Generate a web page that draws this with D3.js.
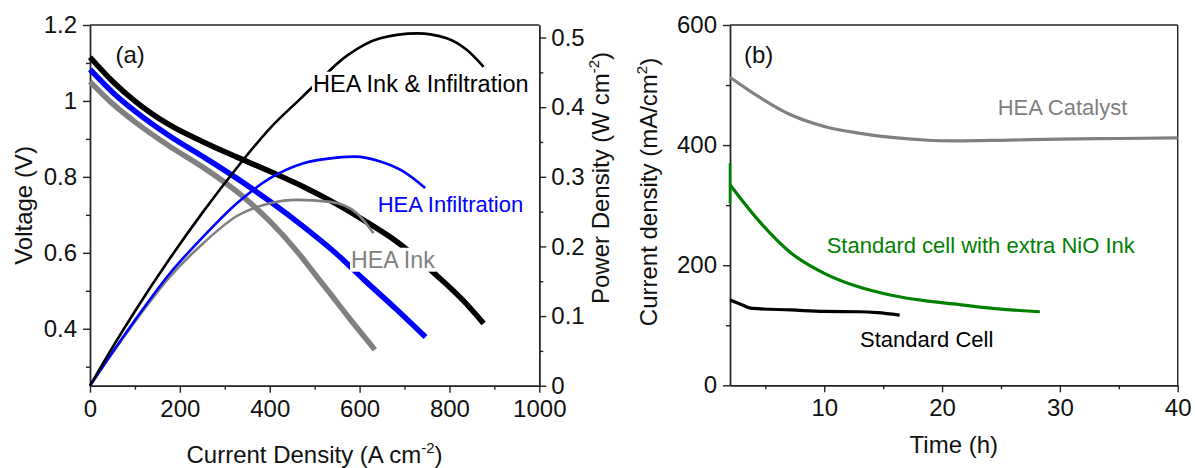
<!DOCTYPE html>
<html>
<head>
<meta charset="utf-8">
<script src="https://cdn.jsdelivr.net/npm/d3@7/dist/d3.min.js"></script>
<style>
  body { margin: 0; background: #fff; }
  svg text { font-family: "Liberation Sans", Arial, sans-serif; }
</style>
</head>
<body>
<svg id="chart" width="1195" height="468"></svg>
<script>
// ---- panel (a): polarisation curves, [current density, voltage] ----
var v_ink_infil = [[0,1.115],[50,1.052],[100,0.9995],[178,0.936],[252,0.892],[327,0.852],[401,0.814],[475,0.774],
                   [549,0.728],[609,0.686],[683,0.629],[772,0.54],[831,0.474],[876,0.414]]
var v_infil = [[0,1.083],[50,1.023],[100,0.973],[178,0.907],[252,0.853],[327,0.796],[401,0.735],[475,0.669],
               [549,0.597],[609,0.53],[683,0.45],[747,0.378]]
var v_ink = [[0,1.051],[50,0.993],[100,0.945],[178,0.88],[252,0.825],[327,0.761],[401,0.682],[460,0.605],
             [505,0.537],[535,0.492],[579,0.425],[634,0.345]]

// power density curves, [current density, power]
var p_ink_infil = [[0,0],[50,0.055],[100,0.107],[178,0.183],[252,0.25],[327,0.313],[401,0.37],[468,0.412],
                   [497,0.43],[572,0.474],[646,0.499],[728,0.506],[794,0.499],[839,0.482],[876,0.458]]
var p_infil = [[0,0],[50,0.048],[100,0.094],[178,0.1615],[252,0.214],[327,0.262],[401,0.298],[475,0.3195],
               [549,0.3275],[590,0.329],[646,0.322],[698,0.3075],[746,0.284]]
var p_ink = [[0,0],[50,0.047],[100,0.092],[178,0.1566],[252,0.2046],[327,0.2437],[401,0.262],[460,0.2668],
             [535,0.264],[594,0.2477],[631,0.219]]

var a_x_ticks = [0,200,400,600,800,1000], a_x_minor = [100,300,500,700,900]
var a_v_ticks = [0.4,0.6,0.8,1,1.2], a_v_minor = [0.3,0.5,0.7,0.9,1.1]
var a_p_ticks = [0,0.1,0.2,0.3,0.4,0.5], a_p_minor = [0.05,0.15,0.25,0.35,0.45]

// ---- panel (b): stability, [time h, current density mA/cm2] ----
var b_hea = [[2,513],[4.4,481],[7.2,450],[10,431],[12.9,420],[15.7,413],[18.5,408.5],[21,407],[25,408],
             [30,410],[35,411],[40,412]]
var b_nio_spike = [[2,303],[2,370]]
var b_nio = [[2,334],[4.4,275],[7.2,220],[10,186.5],[12.9,164],[15.7,150],[18.5,141],
             [21,135.5],[24.3,128],[28.3,122.5]]
var b_std = [[2,142],[2.8,136],[3.9,128],[7.2,125.5],[10,123],[13,122.5],[14.5,121],[16.4,117]]

var b_x_ticks = [10,20,30,40], b_x_minor = [5,15,25,35]
var b_y_ticks = [0,200,400,600], b_y_minor = [100,300,500]

var svg = d3.select("#chart")
var FONT_TICK = 24, FONT_TITLE = 24

// scales
var xA = d3.scaleLinear().domain([0,1000]).range([90,539.3]),
    yV = d3.scaleLinear().domain([0.25,1.2]).range([385.7,25]),
    yP = d3.scaleLinear().domain([0,0.518]).range([385.7,25])
var xB = d3.scaleLinear().domain([2,40]).range([730,1177.7]),
    yB = d3.scaleLinear().domain([0,600]).range([385.3,25])

function draw_axis(axis_fn, scale, major, minor, fmt, transform, pad) {
	var g = svg.append("g").attr("transform", transform)
	g.call(axis_fn(scale).tickValues(minor).tickSize(4).tickSizeOuter(0).tickFormat(""))
	g.append("g").call(axis_fn(scale).tickValues(major).tickSize(7).tickSizeOuter(0).tickPadding(pad).tickFormat(fmt))
	g.selectAll("path.domain").style("stroke", "#222").style("stroke-width", 1.4)
	g.selectAll(".tick line").style("stroke", "#222").style("stroke-width", 1.4)
	g.selectAll("text")
	  .style("font-family", "'Liberation Sans', Arial, sans-serif")
	  .style("font-size", FONT_TICK + "px")
	  .style("fill", "#111")
	return g
}

var plain = d => String(d)

// panel (a) frame + axes
svg.append("line").attr("x1", xA(0)).attr("x2", xA(1000)).attr("y1", 25).attr("y2", 25)
   .style("stroke", "#222").style("stroke-width", 1.4)
draw_axis(d3.axisBottom, xA, a_x_ticks, a_x_minor, plain, "translate(0," + yV(0.25) + ")", 7)
draw_axis(d3.axisLeft, yV, a_v_ticks, a_v_minor, plain, "translate(" + xA(0) + ",0)", 6)
draw_axis(d3.axisRight, yP, a_p_ticks, a_p_minor, plain, "translate(" + xA(1000) + ",0)", 5)

// panel (b) frame + axes
svg.append("line").attr("x1", xB(2)).attr("x2", xB(40)).attr("y1", yB(600)).attr("y2", yB(600))
   .style("stroke", "#222").style("stroke-width", 1.4)
svg.append("line").attr("x1", xB(40)).attr("x2", xB(40)).attr("y1", yB(600)).attr("y2", yB(0))
   .style("stroke", "#222").style("stroke-width", 1.4)
draw_axis(d3.axisBottom, xB, b_x_ticks, b_x_minor, plain, "translate(0," + yB(0) + ")", 7)
draw_axis(d3.axisLeft, yB, b_y_ticks, b_y_minor, plain, "translate(" + xB(2) + ",0)", 6)

// curves
var lineV = d3.line().x(d => xA(d[0])).y(d => yV(d[1])).curve(d3.curveMonotoneX),
    lineP = d3.line().x(d => xA(d[0])).y(d => yP(d[1])).curve(d3.curveMonotoneX),
    lineB = d3.line().x(d => xB(d[0])).y(d => yB(d[1])).curve(d3.curveMonotoneX),
    lineB_straight = d3.line().x(d => xB(d[0])).y(d => yB(d[1]))

var a_series = [
	{v: v_ink, p: p_ink, color: "#808080"},
	{v: v_infil, p: p_infil, color: "#0000ff"},
	{v: v_ink_infil, p: p_ink_infil, color: "#000000"}
]
a_series.forEach(function(s) {
	svg.append("path").attr("d", lineV(s.v))
	   .style("fill", "none").style("stroke", s.color).style("stroke-width", 5.5)
})
a_series.forEach(function(s) {
	svg.append("path").attr("d", lineP(s.p))
	   .style("fill", "none").style("stroke", s.color).style("stroke-width", 2.6)
})

var b_series = [
	{d: b_hea, color: "#808080"},
	{d: b_nio, color: "#008000"},
	{d: b_std, color: "#000000"}
]
b_series.forEach(function(s) {
	svg.append("path").attr("d", lineB(s.d))
	   .style("fill", "none").style("stroke", s.color).style("stroke-width", 3.2)
	   .style("stroke-linejoin", "round")
})
// the little start-up spike of the NiO cell
svg.append("path").attr("d", lineB_straight(b_nio_spike))
   .style("fill", "none").style("stroke", "#008000").style("stroke-width", 2.6)

// annotation labels (some sit on a white box that hides the curves behind)
function label(txt, x, y, color, size, masked) {
	var t = svg.append("text").attr("x", x).attr("y", y).text(txt)
	  .style("fill", color).style("font-size", size + "px")
	if (masked) {
		var bb = t.node().getBBox()
		svg.append("rect")
		   .attr("x", bb.x - 1).attr("y", bb.y + 1).attr("width", bb.width + 2).attr("height", bb.height - 2)
		   .style("fill", "#fff")
		t.raise()
	}
}
label("(a)", 115.5, 63, "#111", 24, false)
label("HEA Ink & Infiltration", 313, 91.7, "#000", 23.5, true)
label("HEA Infiltration", 377.7, 212.3, "#0000ff", 22, false)
label("HEA Ink", 351, 267.7, "#808080", 23.2, true)

label("(b)", 744, 63, "#111", 24, false)
label("HEA Catalyst", 997.7, 115, "#808080", 22, false)
label("Standard cell with extra NiO Ink", 826.7, 253, "#008000", 22, false)
label("Standard Cell", 860, 346.7, "#000", 22, false)

// axis titles
function title(parts, x, y, rot, anchor) {
	var t = svg.append("text")
	  .attr("transform", "translate(" + x + "," + y + ")" + (rot ? " rotate(-90)" : ""))
	  .style("text-anchor", anchor || "middle")
	  .style("font-size", FONT_TITLE + "px").style("fill", "#111")
	parts.forEach(function(p) {
		var ts = t.append("tspan").text(p[0])
		if (p[1] == "sup") ts.attr("dy", -10).style("font-size", "15px")
		if (p[1] == "down") ts.attr("dy", 10)
	})
}
title([["Current Density (A cm"], ["-2", "sup"], [")", "down"]], 314.5, 463, false)
title([["Voltage (V)"]], 32, 205.5, true)
title([["Power Density (W cm"], ["-2", "sup"], [")", "down"]], 609, 178, true)
title([["Current density (mA/cm"], ["2", "sup"], [")", "down"]], 657, 192, true)
title([["Time (h)"]], 953.8, 452.7, false)
</script>
</body>
</html>
